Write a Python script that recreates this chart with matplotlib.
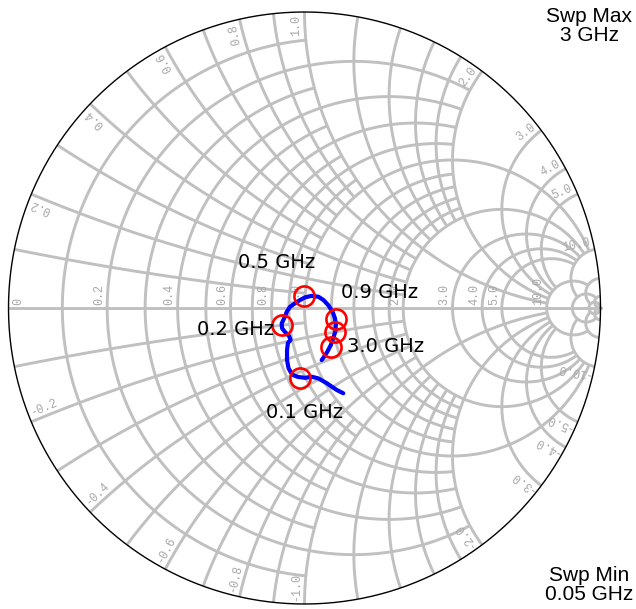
import numpy as np
import matplotlib.pyplot as plt

# trace, reflection coefficient (re, im), 0.05 -> 3 GHz
gam_re = [0.131, 0.109, 0.075, 0.047, 0.024, 0.002, -0.022, -0.042, -0.054, -0.059,
          -0.059, -0.056, -0.047, -0.052, -0.066, -0.076, -0.077, -0.066, -0.060, -0.049,
          -0.032, -0.015, 0.002, 0.024, 0.047, 0.064, 0.080, 0.095, 0.103, 0.106,
          0.104, 0.097, 0.089, 0.077, 0.066, 0.058]
gam_im = [-0.288, -0.277, -0.254, -0.238, -0.232, -0.236, -0.233, -0.225, -0.203, -0.176,
          -0.142, -0.118, -0.108, -0.095, -0.081, -0.068, -0.052, -0.029, -0.013, 0.004,
          0.016, 0.027, 0.036, 0.041, 0.038, 0.027, 0.010, -0.013, -0.035, -0.057,
          -0.080, -0.102, -0.125, -0.148, -0.165, -0.176]

# markers
mark_re = [-0.015, -0.075, -0.002, 0.105, 0.104, 0.089]
mark_im = [-0.238, -0.057, 0.041, -0.037, -0.080, -0.131]
mark_txt = ['0.1 GHz', '0.2 GHz', '0.5 GHz', '0.9 GHz', '', '3.0 GHz']
mark_off = [(5, -34), (-47, -5), (-27, 33), (44, 26), (0, 0), (55, 0)]

# grid: value and how far the other coordinate goes (None = all the way)
r_vals = [0.1, 0.2, 0.3, 0.4, 0.5, 0.6, 0.7, 0.8, 0.9, 1.0, 1.2, 1.4, 1.6, 1.8, 2.0, 3.0, 4.0, 5.0, 10.0, 20.0, 50.0]
r_lims = [1, 2, 1, 2, 1, 2, 1, 2, 1, 10, 2, 2, 2, 2, 10, 10, 10, 10, 20, 50, None]
x_vals = r_vals
x_lims = r_lims

lab_vals = [0.2, 0.4, 0.6, 0.8, 1.0, 2.0, 3.0, 4.0, 5.0, 10.0]

grid_col = '#c0c0c0'
lab_col = '#a8a8a8'
px = 1 / 296.0

fig = plt.figure(figsize=(6.36, 6.09), dpi=100)
ax = fig.add_axes([0, 0, 1, 1])
ax.set_xlim(-304.5 / 296, (636 - 304.5) / 296)
ax.set_ylim((308 - 609) / 296, 308 / 296)
ax.axis('off')


def gam(z):
    return (z - 1) / (z + 1)


# resistance circles
for r, lim in zip(r_vals, r_lims):
    if lim is None:
        t = np.linspace(-np.pi / 2 + 1e-4, np.pi / 2 - 1e-4, 600)
    else:
        t = np.linspace(-np.arctan(lim), np.arctan(lim), 400)
    g = gam(r + 1j * np.tan(t))
    ax.plot(g.real, g.imag, color=grid_col, lw=2.1, solid_capstyle='butt', zorder=1)

# reactance arcs
for x, lim in zip(x_vals, x_lims):
    top = np.pi / 2 - 1e-4 if lim is None else np.arctan(lim)
    t = np.linspace(0, top, 400)
    for s in (1, -1):
        g = gam(np.tan(t) + 1j * s * x)
        ax.plot(g.real, g.imag, color=grid_col, lw=2.1, solid_capstyle='butt', zorder=1)

# real axis
ax.plot([-1, 1], [0, 0], color=grid_col, lw=2.1, zorder=1)

# outer circle
a = np.linspace(0, 2 * np.pi, 800)
ax.plot(np.cos(a), np.sin(a), color='black', lw=1.0, zorder=2)

# labels on the real axis
for v in [0] + lab_vals:
    g = gam(v)
    xx = g - 2 * px if v > 0 else g + 16 * px
    ax.text(xx, 3 * px, '0' if v == 0 else f'{v:.1f}', rotation=90, rotation_mode='anchor',
            ha='left', va='bottom', fontsize=8.5, family='Liberation Mono', color=lab_col, zorder=3)

# labels at the rim
for v in lab_vals:
    for s in (1, -1):
        g = gam(1j * s * v)
        th = np.angle(g)
        p = g * (1 - 3 * px)
        if s > 0:
            nrm = np.exp(1j * (th + np.pi / 2))
            p = p + nrm * 2 * px
            ax.text(p.real, p.imag, f'{v:.1f}', rotation=np.degrees(th), rotation_mode='anchor',
                    ha='right', va='bottom', fontsize=8.5, family='Liberation Mono', color=lab_col, zorder=3)
        else:
            nrm = np.exp(1j * (th - np.pi / 2))
            p = p + nrm * 2 * px
            ax.text(p.real, p.imag, f'-{v:.1f}', rotation=np.degrees(th) + 180, rotation_mode='anchor',
                    ha='left', va='bottom', fontsize=8.5, family='Liberation Mono', color=lab_col, zorder=3)

# trace
ax.plot(gam_re, gam_im, color='#0000ff', lw=3, solid_capstyle='round', zorder=4)
ax.plot(mark_re, mark_im, 'o', ms=14.5, mfc='none', mec='#ff0000', mew=1.9, zorder=5)
for xr, xi, txt, off in zip(mark_re, mark_im, mark_txt, mark_off):
    if txt:
        ax.annotate(txt, (xr, xi), xytext=off, textcoords='offset pixels', ha='center', va='center',
                    fontsize=14, family='DejaVu Sans', color='black', zorder=6)

fig.text(589 / 636, 1 - 7 / 609, 'Swp Max\n3 GHz', ha='center', va='top', fontsize=15,
         family='Liberation Sans', linespacing=1.0)
fig.text(589 / 636, 5 / 609, 'Swp Min\n0.05 GHz', ha='center', va='bottom', fontsize=15,
         family='Liberation Sans', linespacing=1.0)

fig.savefig('out.png', dpi=100)
